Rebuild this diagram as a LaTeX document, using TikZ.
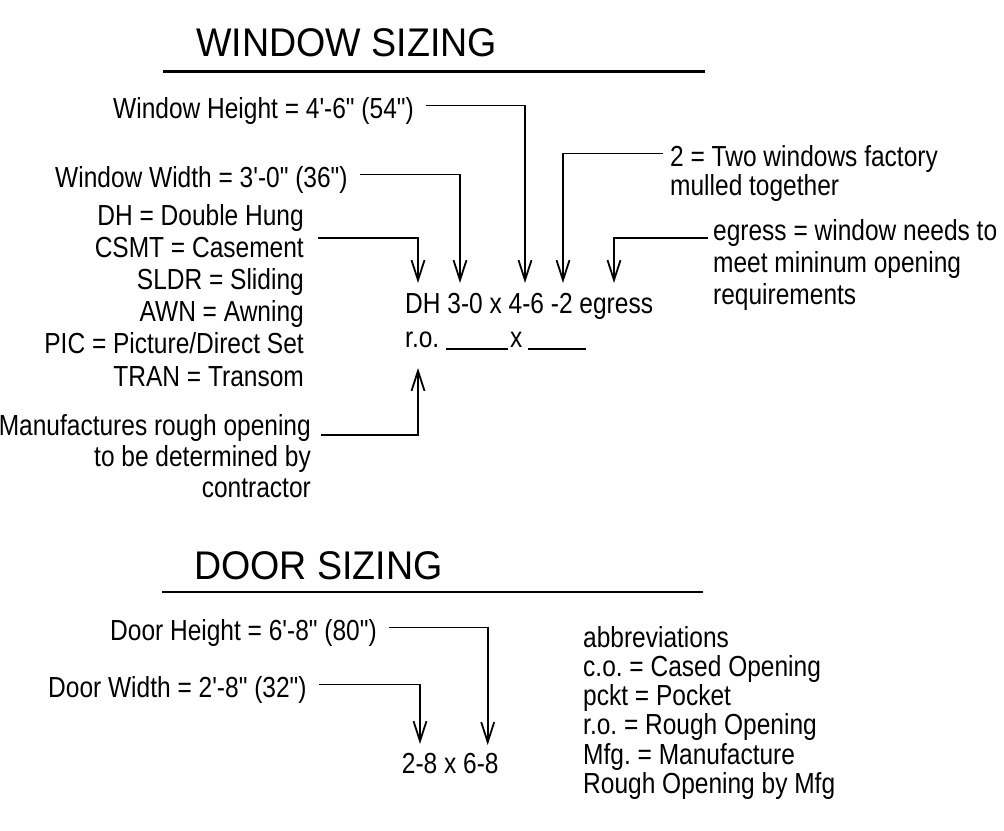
\documentclass[tikz,border=0pt]{standalone}
\usepackage{fontspec}
\setmainfont[FakeStretch=0.845,Ligatures=TeXOff]{Liberation Sans}
\newfontfamily\titlefont[FakeStretch=0.94,Ligatures=TeXOff]{Liberation Sans}
\frenchspacing
\usetikzlibrary{arrows.meta,positioning}
\tikzset{
  lbl/.style={inner sep=0pt,text height=25pt,text depth=0pt,font=\fontsize{29}{30}\selectfont},
  heading/.style={inner sep=0pt,anchor=base west,font=\titlefont\fontsize{40}{41}\selectfont},
  pointer/.style={line width=1.8pt,-{Straight Barb[length=20pt,width=13pt]},shorten <=12pt},
  hrule/.style={line width=2.6pt}
}
\begin{document}
\begin{tikzpicture}[x=1pt,y=-1pt]
  \useasboundingbox (0,0) rectangle (1004,830);

  % window sizing
  \node[heading] (wtitle) at (196,56) {WINDOW SIZING};
  \draw[hrule] (163,71.7) -- (705,71.7);

  \node[lbl,anchor=base west] (wheight) at (113,118) {Window Height = 4'-6" (54")};
  \node[lbl,anchor=base west] (wwidth) at (55,187) {Window Width = 3'-0" (36")};
  \foreach \txt [count=\i] in {DH = Double Hung,CSMT = Casement,SLDR = Sliding,AWN = Awning,PIC = Picture/Direct Set,TRAN = Transom}
    \node[lbl,anchor=base east] (wtype\i) at (304,{225+32.2*(\i-1)}) {\txt};

  \node[lbl,anchor=base west] (mull1) at (670,166) {2 = Two windows factory};
  \node[lbl,anchor=base west] (mull2) at (670,195) {mulled together};
  \node[lbl,anchor=base west] (egr1) at (713,240) {egress = window needs to};
  \node[lbl,anchor=base west] (egr2) at (713,272) {meet mininum opening};
  \node[lbl,anchor=base west] (egr3) at (713,304) {requirements};

  \node[lbl,anchor=base west] (wcode) at (405,313) {DH 3-0 x 4-6 -2 egress};
  \node[lbl,anchor=base west] (rough) at (405,347) {r.o. \rule[-3pt]{62pt}{2pt}\hspace{2pt}x\hspace{6pt}\rule[-3pt]{58pt}{2pt}};

  \node[lbl,anchor=base east] (mfg1) at (311,435) {Manufactures rough opening};
  \node[lbl,anchor=base east] (mfg2) at (311,466) {to be determined by};
  \node[lbl,anchor=base east] (mfg3) at (311,497) {contractor};

  \coordinate (pType) at (418,283);
  \coordinate (pWidth) at (460,283);
  \coordinate (pHeight) at (525,283);
  \coordinate (pMull) at (563,283);
  \coordinate (pEgress) at (614,283);
  \coordinate (pRough) at (418,368);

  \draw[pointer] (wheight.east) -| (pHeight);
  \draw[pointer] (wwidth.east) -| (pWidth);
  \draw[pointer,shorten <=14pt] ([yshift=6.5pt]wtype2.east) -| (pType);
  \draw[pointer,shorten <=7pt] (mull1.west) -| (pMull);
  \draw[pointer,shorten <=5pt] ([yshift=2pt]egr1.base west) -| (pEgress);
  \draw[pointer,shorten <=10pt] (mfg1.base east) -| (pRough);

  % door sizing
  \node[heading] (dtitle) at (194,579) {DOOR SIZING};
  \draw[hrule] (162,592) -- (703,592);

  \node[lbl,anchor=base west] (dheight) at (110,640) {Door Height = 6'-8" (80")};
  \node[lbl,anchor=base west] (dwidth) at (48,697) {Door Width = 2'-8" (32")};
  \node[lbl,anchor=base west] (dcode) at (401.7,773) {2-8 x 6-8};

  \coordinate (pDWidth) at (420,744);
  \coordinate (pDHeight) at (487.7,745);

  \draw[pointer] (dheight.east) -| (pDHeight);
  \draw[pointer] (dwidth.east) -| (pDWidth);

  \foreach \txt [count=\i] in {abbreviations,c.o. = Cased Opening,pckt = Pocket,r.o. = Rough Opening,Mfg. = Manufacture,Rough Opening by Mfg}
    \node[lbl,anchor=base west] (abbr\i) at (583,{647+29.3*(\i-1)}) {\txt};
\end{tikzpicture}
\end{document}
